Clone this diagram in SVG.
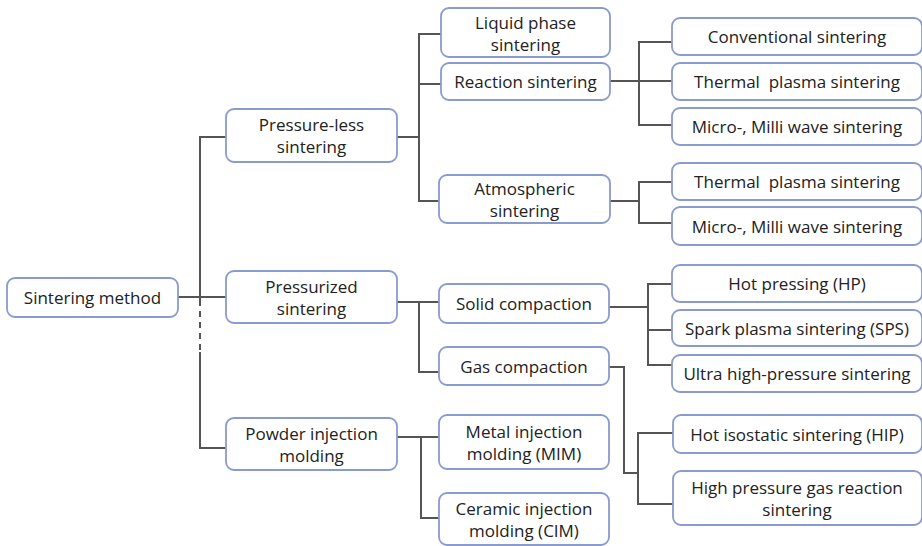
<svg xmlns="http://www.w3.org/2000/svg" width="922" height="546" viewBox="0 0 922 546">
<style>
.box{fill:#fff;stroke:#8a9bcf;stroke-width:1.8}
text{font-family:"Open Sans","Noto Sans",sans-serif;font-size:17px;fill:#222;text-anchor:middle;dominant-baseline:central}
.c{fill:none;stroke:#555;stroke-width:2}
.d{fill:none;stroke:#555;stroke-width:2;stroke-dasharray:6 5}
</style>
<rect width="922" height="546" fill="#fff"/>
<g id="connectors">
<path class="c" d="M178 297H226M226 137H200V300M200 352V448H226"/>
<path class="d" d="M200 300V352"/>
<path class="c" d="M397 137H419M441 34H419V201H439M419 84H441"/>
<path class="c" d="M610 81H639M672 42H639V125H672M639 81H672"/>
<path class="c" d="M610 201H639M672 182H639V223H672"/>
<path class="c" d="M397 302H439M419 302V372H439"/>
<path class="c" d="M609 307H648M672 284H648V365H672M648 330H672"/>
<path class="c" d="M609 367H624V473H638M673 433H638V504H673"/>
<path class="c" d="M397 437H439M421 437V518H439"/>
</g>
<g id="root"><rect class="box" x="7" y="278" width="171" height="39" rx="8"/><text x="92.5" y="297">Sintering method</text></g>
<g id="pressureless"><rect class="box" x="226" y="109" width="171" height="53" rx="8"/><text x="311.5" y="124">Pressure-less</text><text x="311.5" y="146">sintering</text></g>
<g id="liquid"><rect class="box" x="441" y="8" width="169" height="49" rx="8"/><text x="525.5" y="22">Liquid phase</text><text x="525.5" y="44">sintering</text></g>
<g id="reaction"><rect class="box" x="441" y="63" width="169" height="37" rx="8"/><text x="525.5" y="81">Reaction sintering</text></g>
<g id="conventional"><rect class="box" x="672" y="18" width="250" height="37" rx="8"/><text x="797" y="36">Conventional sintering</text></g>
<g id="thermal1"><rect class="box" x="672" y="63" width="250" height="37" rx="8"/><text x="797" y="81" xml:space="preserve">Thermal  plasma sintering</text></g>
<g id="micro1"><rect class="box" x="672" y="108" width="250" height="37" rx="8"/><text x="797" y="126">Micro-, Milli wave sintering</text></g>
<g id="atmospheric"><rect class="box" x="439" y="175" width="171" height="48" rx="8"/><text x="524.5" y="188">Atmospheric</text><text x="524.5" y="210">sintering</text></g>
<g id="thermal2"><rect class="box" x="672" y="163" width="250" height="37" rx="8"/><text x="797" y="181" xml:space="preserve">Thermal  plasma sintering</text></g>
<g id="micro2"><rect class="box" x="672" y="207" width="250" height="38" rx="8"/><text x="797" y="226">Micro-, Milli wave sintering</text></g>
<g id="pressurized"><rect class="box" x="226" y="271" width="171" height="52" rx="8"/><text x="311.5" y="286">Pressurized</text><text x="311.5" y="308">sintering</text></g>
<g id="solid"><rect class="box" x="439" y="284" width="170" height="39" rx="8"/><text x="524" y="303">Solid compaction</text></g>
<g id="gas"><rect class="box" x="439" y="347" width="170" height="38" rx="8"/><text x="524" y="366">Gas compaction</text></g>
<g id="hp"><rect class="box" x="672" y="265" width="250" height="37" rx="8"/><text x="797" y="283">Hot pressing (HP)</text></g>
<g id="sps"><rect class="box" x="672" y="310" width="250" height="36" rx="8"/><text x="797" y="328">Spark plasma sintering (SPS)</text></g>
<g id="uhp"><rect class="box" x="672" y="355" width="250" height="37" rx="8"/><text x="797" y="373">Ultra high-pressure sintering</text></g>
<g id="hip"><rect class="box" x="673" y="415" width="249" height="38" rx="8"/><text x="797" y="434">Hot isostatic sintering (HIP)</text></g>
<g id="hpg"><rect class="box" x="673" y="471" width="249" height="54" rx="8"/><text x="797" y="487">High pressure gas reaction</text><text x="797" y="509">sintering</text></g>
<g id="pim"><rect class="box" x="226" y="418" width="171" height="52" rx="8"/><text x="311.5" y="433">Powder injection</text><text x="311.5" y="455">molding</text></g>
<g id="mim"><rect class="box" x="439" y="415" width="170" height="54" rx="8"/><text x="524" y="431">Metal injection</text><text x="524" y="453">molding (MIM)</text></g>
<g id="cim"><rect class="box" x="439" y="493" width="170" height="52" rx="8"/><text x="524" y="508">Ceramic injection</text><text x="524" y="530">molding (CIM)</text></g>
</svg>
